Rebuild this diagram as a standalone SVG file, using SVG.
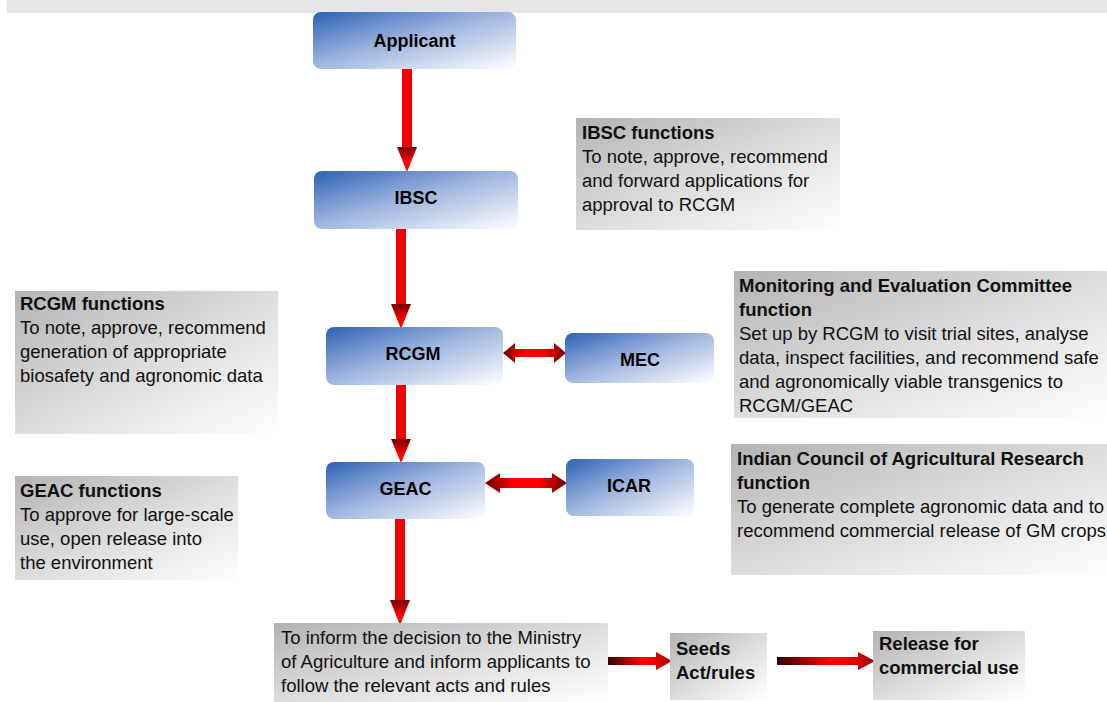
<svg xmlns="http://www.w3.org/2000/svg" width="1107" height="702" viewBox="0 0 1107 702">
<defs>
<linearGradient id="gBlue" x1="0" y1="0" x2="1" y2="1">
<stop offset="0" stop-color="#2c61b5"/>
<stop offset="0.45" stop-color="#9ab2de"/>
<stop offset="1" stop-color="#ffffff"/>
</linearGradient>
<linearGradient id="gGray" x1="0" y1="0" x2="1" y2="1">
<stop offset="0" stop-color="#b3b3b3"/>
<stop offset="0.5" stop-color="#dcdcdc"/>
<stop offset="1" stop-color="#ffffff"/>
</linearGradient>
<linearGradient id="gHead" x1="0" y1="0" x2="0" y2="1">
<stop offset="0" stop-color="#7a0000"/>
<stop offset="0.6" stop-color="#ff0000"/>
<stop offset="1" stop-color="#ff0000"/>
</linearGradient>
<linearGradient id="gShaft" x1="0" y1="0" x2="1" y2="0">
<stop offset="0" stop-color="#e80000"/>
<stop offset="0.3" stop-color="#ff0000"/>
<stop offset="1" stop-color="#f00000"/>
</linearGradient>
<linearGradient id="gDouble" x1="0" y1="0" x2="1" y2="0">
<stop offset="0" stop-color="#6a0000"/>
<stop offset="0.35" stop-color="#ff0000"/>
<stop offset="0.65" stop-color="#ff0000"/>
<stop offset="1" stop-color="#6a0000"/>
</linearGradient>
<linearGradient id="gRight" x1="0" y1="0" x2="1" y2="0">
<stop offset="0" stop-color="#2a0000"/>
<stop offset="0.55" stop-color="#ff0000"/>
<stop offset="0.8" stop-color="#e00000"/>
<stop offset="1" stop-color="#9a0000"/>
</linearGradient>
</defs>
<style>
.node{fill:url(#gBlue)}
.box{fill:url(#gGray)}
.lbl{font-family:"Liberation Sans",Arial,sans-serif;font-size:18px;font-weight:bold;fill:#000;text-anchor:middle}
.t{font-family:"Liberation Sans",Arial,sans-serif;font-size:18.5px;fill:#111}
.b{font-weight:bold}
.shaft{fill:url(#gShaft)}
.head{fill:url(#gHead)}
.dbl{fill:url(#gDouble)}
.rgt{fill:url(#gRight)}
</style>
<rect x="7" y="0" width="1100" height="13" fill="#e6e6e6"/>

<g id="connectors">
<rect class="shaft" x="402" y="69" width="10" height="79"/>
<polygon class="head" points="397,147 417,147 407,172"/>
<rect class="shaft" x="396" y="229" width="10" height="76"/>
<polygon class="head" points="391,304 411,304 401,329"/>
<rect class="shaft" x="396" y="385" width="10" height="55"/>
<polygon class="head" points="391,439 411,439 401,463"/>
<rect class="shaft" x="395" y="519" width="10" height="82"/>
<polygon class="head" points="390,600 410,600 400,625"/>
<polygon class="dbl" points="503,353 515,343 515,349 554,349 554,343 566,353 554,363 554,357 515,357 515,363"/>
<polygon class="dbl" points="485,483 500,473 500,478 552,478 552,473 567,483 552,493 552,488 500,488 500,493"/>
<polygon class="rgt" points="605,657 656,657 656,652 672,661 656,670 656,665 605,665"/>
<polygon class="rgt" points="777,657 858,657 858,652 875,661 858,670 858,665 777,665"/>
</g>

<g id="applicant"><rect class="node" x="313" y="12" width="203" height="57" rx="8"/><text class="lbl" x="414.5" y="47">Applicant</text></g>
<g id="ibsc"><rect class="node" x="314" y="171" width="204" height="58" rx="8"/><text class="lbl" x="416" y="204">IBSC</text></g>
<g id="rcgm"><rect class="node" x="326" y="327" width="177" height="58" rx="8"/><text class="lbl" x="413" y="360">RCGM</text></g>
<g id="mec"><rect class="node" x="565" y="333" width="149" height="50" rx="8"/><text class="lbl" x="640" y="366">MEC</text></g>
<g id="geac"><rect class="node" x="326" y="462" width="159" height="57" rx="8"/><text class="lbl" x="405.5" y="495">GEAC</text></g>
<g id="icar"><rect class="node" x="566" y="459" width="128" height="57" rx="8"/><text class="lbl" x="629" y="492">ICAR</text></g>

<g id="ibsc-functions"><rect class="box" x="576" y="118" width="264" height="112"/>
<text class="t"><tspan class="b" x="582" y="139">IBSC functions</tspan><tspan x="582" y="163">To note, approve, recommend</tspan><tspan x="582" y="187">and forward applications for</tspan><tspan x="582" y="211">approval to RCGM</tspan></text></g>

<g id="rcgm-functions"><rect class="box" x="15" y="291" width="263" height="143"/>
<text class="t"><tspan class="b" x="20" y="310">RCGM functions</tspan><tspan x="20" y="334">To note, approve, recommend</tspan><tspan x="20" y="358">generation of appropriate</tspan><tspan x="20" y="382">biosafety and agronomic data</tspan></text></g>

<g id="mec-function"><rect class="box" x="734" y="271" width="373" height="147"/>
<text class="t"><tspan class="b" x="739" y="292">Monitoring and Evaluation Committee</tspan><tspan class="b" x="739" y="316">function</tspan><tspan x="739" y="340">Set up by RCGM to visit trial sites, analyse</tspan><tspan x="739" y="364">data, inspect facilities, and recommend safe</tspan><tspan x="739" y="388">and agronomically viable transgenics to</tspan><tspan x="739" y="412">RCGM/GEAC</tspan></text></g>

<g id="icar-function"><rect class="box" x="731" y="444" width="376" height="131"/>
<text class="t"><tspan class="b" x="737" y="465">Indian Council of Agricultural Research</tspan><tspan class="b" x="737" y="489">function</tspan><tspan x="737" y="513">To generate complete agronomic data and to</tspan><tspan x="737" y="537">recommend commercial release of GM crops</tspan></text></g>

<g id="geac-functions"><rect class="box" x="15" y="476" width="223" height="104"/>
<text class="t"><tspan class="b" x="20" y="497">GEAC functions</tspan><tspan x="20" y="521">To approve for large-scale</tspan><tspan x="20" y="545">use, open release into</tspan><tspan x="20" y="569">the environment</tspan></text></g>

<g id="decision"><rect class="box" x="274" y="623" width="334" height="79"/>
<text class="t"><tspan x="281" y="644">To inform the decision to the Ministry</tspan><tspan x="281" y="668">of Agriculture and inform applicants to</tspan><tspan x="281" y="692">follow the relevant acts and rules</tspan></text></g>

<g id="seeds"><rect class="box" x="670" y="633" width="97" height="67"/>
<text class="t b"><tspan x="676" y="655">Seeds</tspan><tspan x="676" y="679">Act/rules</tspan></text></g>

<g id="release"><rect class="box" x="873" y="631" width="152" height="69"/>
<text class="t b"><tspan x="879" y="650">Release for</tspan><tspan x="879" y="674">commercial use</tspan></text></g>
</svg>
